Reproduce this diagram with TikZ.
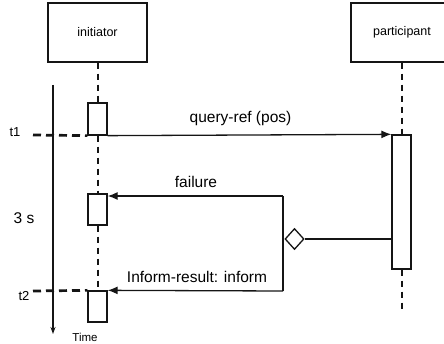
\documentclass[tikz,border=0pt]{standalone}
\usepackage{fontspec}
\setmainfont{Liberation Sans}
\usetikzlibrary{arrows.meta,shapes.geometric}
\definecolor{SDInk}{HTML}{151515}

\begin{document}
\begin{tikzpicture}[x=1pt,y=-1pt,
  actor/.style={draw=SDInk,line width=1.3pt,minimum height=59pt,inner sep=0pt,font=\fontsize{12.5}{14}\selectfont},
  act/.style={draw=SDInk,line width=1.3pt,fill=white,minimum width=19pt,inner sep=0pt},
  life/.style={SDInk,line width=2pt,dash pattern=on 6pt off 5pt},
  tick/.style={SDInk,line width=2.7pt,dash pattern=on 8pt off 5pt},
  msg/.style={SDInk,line width=1.3pt,-{Latex[length=10pt,width=8pt]}},
  lbl/.style={font=\fontsize{15.5}{17}\selectfont,inner sep=0pt},
  tlab/.style={font=\fontsize{13}{15}\selectfont,inner sep=0pt}]
\path[use as bounding box] (0,0) rectangle (444,344);
\clip (0,0) rectangle (444,344);
% agents
\node[actor,minimum width=99pt] (init) at (97.5,32.5) {initiator};
\node[actor,minimum width=102pt] (part) at (402,32.5) {participant};
% activations
\node[act,minimum height=32pt] (act1) at (97.5,119) {};
\node[act,minimum height=31pt] (act2) at (97.5,209.5) {};
\node[act,minimum height=31pt] (act3) at (97.5,306.5) {};
\node[act,minimum height=134pt] (pact) at (401.5,202) {};
\coordinate (pend) at (401.5,312);
% lifelines
\draw[life] (init.south) -- (act1.north);
\draw[life] (act1.south) -- (act2.north);
\draw[life] (act2.south) -- (act3.north);
\draw[life] (part.south -| pact.north) -- (pact.north);
\draw[life] (pact.south) -- (pend);
% time axis
\coordinate (t1s) at (33,135);
\coordinate (t2s) at (33,291);
\coordinate (ttop) at (53,85);
\coordinate (tbot) at (53,334);
\draw[tick] (t1s) -- (act1.south west);
\draw[tick] (t2s) -- (act3.north west);
\draw[SDInk,line width=1.3pt,-{Stealth[length=7pt,width=5pt]}] (ttop) -- (tbot);
% messages
\draw[msg] (act1.south east) -- (pact.north west);
\coordinate (fk1) at (283,196);
\coordinate (fk2) at (283,291);
\draw[SDInk,line width=1.3pt] (fk1) -- (fk2);
\draw[msg] (fk1) -- (act2.east |- fk1);
\draw[msg] (fk2) -- (act3.north east);
\node[diamond,draw=SDInk,line width=1.3pt,minimum width=19pt,minimum height=21pt,inner sep=0pt] (dia) at (294.5,239) {};
\draw[SDInk,line width=1.3pt] (dia.east) -- (pact.west |- dia.east);
% labels
\node[lbl] (qlab) at (240.5,118) {query-ref (pos)};
\node[lbl] (flab) at (196,182) {failure};
\node[lbl] (ilab) at (197,277) {Inform-result: inform};
\node[lbl] (dur) at (24,218) {3 s};
\node[tlab] (t1) at (15,132) {t1};
\node[tlab] (t2) at (24,296) {t2};
\node[font=\fontsize{11.5}{13}\selectfont,inner sep=0pt] (tlbl) at (85,337) {Time};
\end{tikzpicture}
\end{document}
